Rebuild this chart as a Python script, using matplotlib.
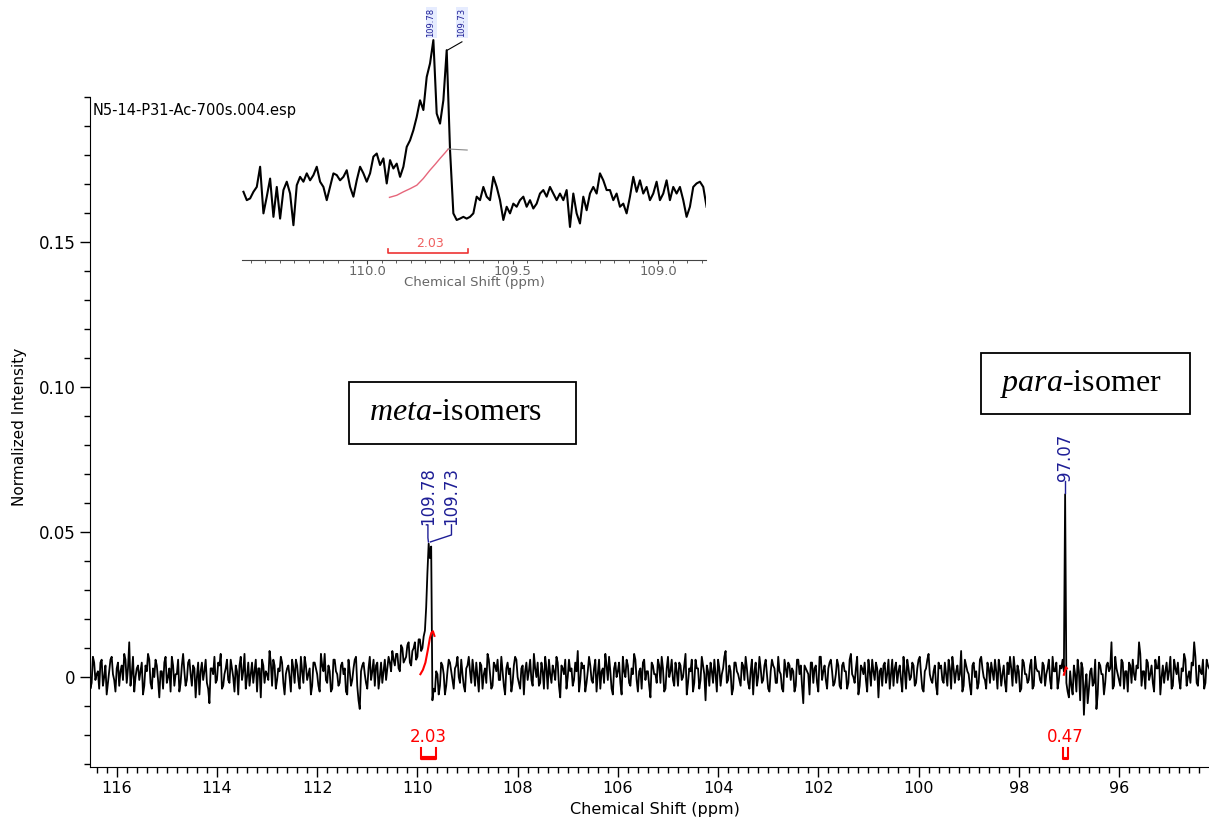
import numpy as np
import matplotlib
matplotlib.use('Agg')
import matplotlib.pyplot as plt
from matplotlib.patches import Rectangle
from matplotlib.ticker import MultipleLocator, FormatStrFormatter
from matplotlib.transforms import Bbox, TransformedBbox, blended_transform_factory

plt.rcParams['font.family'] = ['DejaVu Sans']
plt.rcParams['mathtext.fontset'] = 'custom'
plt.rcParams['mathtext.rm'] = 'Liberation Serif'
plt.rcParams['mathtext.it'] = 'Liberation Serif:italic'

# main spectrum (intensity x 1000), sampled every 0.025 ppm from 116.55 to 94.20:
# even samples 116.55, 116.50, ... and odd samples 116.525, 116.475, ...
even_milli = [
    3, -2, 5, 1, -4, 6, 0, -6, 2, 7, -1, 3, -3, 4, 8, -2, 12, 1, -5, 3,
    -1, 5, -3, 2, 6, -4, 0, 4, -7, 2, 5, -2, 3, 7, -3, 1, -5, 4, 2, -1,
    6, -3, 3, 0, -6, 5, 2, -2, -9, 3, 7, -1, 4, -4, 1, 6, -2, 3, -5, 2,
    4, -1, 8, 0, -3, 5, 2, -5, 3, 6, -2, 1, 9, -3, 4, -1, 2, 5, -6, 3,
    0, 6, -2, 4, -4, 2, 7, -1, 3, -3, 5, 1, -5, 4, 8, -2, 2, -4, 6, 1,
    -2, 5, 3, -6, 2, -1, 6, -3, -11, 4, 1, -4, 7, 2, -3, 5, 0, -2, 6, 3,
    5, 9, 4, 8, 2, 10, 6, 11, 5, 9, 12, 7, 13, 10, 16, 36, 41, -8, -5, 1,
    -3, 4, -6, 2, 5, -1, 3, 7, -2, 1, -5, 4, 2, 6, -3, 0, 5, -4, 3, 8,
    1, -3, 4, 6, -1, 2, -6, 5, 3, -2, 7, 0, -4, 4, 2, -1, 6, -3, 3, 5,
    -2, 2, 7, -4, 1, 4, -1, 5, -7, 3, 6, 0, 2, -3, 5, 9, -1, 3, -5, 2,
    4, -2, 6, 1, -4, 3, 8, -1, 2, -6, 5, 2, -2, 7, 0, 4, -3, 1, 6, -5,
    3, 5, -1, 2, -7, 4, 1, 6, -2, 3, -4, 7, 2, -1, 5, -3, 4, 0, 8, -2,
    2, -5, 6, 3, -1, 4, -8, 2, 5, -2, 1, 6, -3, 3, 9, -1, 2, -4, 5, 1,
    -3, 4, 7, -2, 2, -6, 5, 0, 3, -1, 6, -4, 2, 4, -2, 7, 1, -5, 3, 5,
    -1, 2, -3, 6, 4, -9, 3, 1, 5, -2, 4, -5, 7, 2, -1, 3, 6, -3, 1, 4,
    -4, 5, 2, -2, 8, 0, 3, -6, 4, 1, -1, 6, -3, 2, 5, -7, 3, 4, -2, 6,
    1, -3, 5, 2, -1, 7, -4, 3, 0, 4, -2, 6, 1, -5, 3, 8, -1, 2, -3, 5,
    4, -2, 1, 6, -4, 3, 2, -1, 9, -3, 4, 1, -6, 5, 2, -2, 7, 0, -4, 3,
    5, -1, 2, 6, -3, 4, -5, 1, 3, 7, -2, 2, -4, 5, 1, -1, 6, -3, 3, 2,
    -2, 4, 1, 6, -4, 2, 5, -1, 3, 2, -2, -7, -3, 4, -5, 2, 5, -13, 1, -4,
    3, -2, -11, 5, 1, -6, 4, 2, 12, -3, 3, -1, 6, -4, 2, 5, -2, 1, 4, 12,
    -3, 2, 6, -1, 4, -5, 3, 7, 0, -2, 5, 2, -4, 6, 1, -1, 3, 8, -3, 2,
    5, 12, -2, 4, 1, -4, 6, 3,
]
odd_milli = [
    -4, 7, -1, 2, 5, -3, 4, -2, 6, 1, -5, 5, 2, -1, 6, 3, -3, 7, 0, 4,
    2, -6, 4, 8, -2, 3, 6, -1, 2, -4, 7, 0, -5, 4, 1, 6, -2, 8, -3, 5,
    1, 4, -7, 5, 2, -1, 6, -4, 3, 1, -2, 5, 8, -3, 3, -1, 6, 0, 4, -6,
    7, 2, -4, 5, 1, -2, 6, 3, -7, 4, 2, -1, 5, 6, -4, 3, 7, -2, 1, 4,
    -5, 3, 6, -1, 7, -2, 4, 1, -6, 5, 3, -3, 8, 2, -1, 4, -5, 6, 2, -3,
    4, 1, -5, 6, -3, 3, 7, -8, 2, 5, -2, 3, -1, 6, 4, -4, 5, 2, -1, 7,
    2, 6, 8, 3, 11, 5, 7, 12, 4, 10, 6, 13, 9, 14, 24, 46, 45, -4, 2, -6,
    5, 1, -3, 6, 2, -4, 4, 0, 6, -3, 3, 7, -2, 2, 5, -5, 4, 1, -2, 6,
    -4, 5, 2, -1, 7, -3, 3, 1, -5, 4, 6, -2, 3, -6, 5, 2, -1, 8, 0, -3,
    5, -4, 3, 6, -2, 2, 7, -3, 4, 1, -4, 6, 3, -1, 2, -5, 5, 4, -2, 7,
    -1, 3, -5, 6, 2, -2, 4, 7, -4, 3, 0, 5, -6, 2, 6, -2, 3, 8, -1, 2,
    -4, 6, 2, -3, 5, 1, -2, 4, 7, -5, 3, 0, 6, -3, 2, 5, -1, 4, -6, 3,
    6, -2, 3, -4, 7, 1, 4, -3, 2, 6, -5, 3, 1, 7, -2, 4, -6, 5, 2, -1,
    5, -1, 3, -4, 6, 2, -3, 7, -2, 4, 1, -5, 6, 3, -2, 2, -4, 6, 0, 4,
    3, -5, 6, 1, -3, 4, 2, -6, 5, 3, -2, 7, -1, 4, -4, 5, 2, -2, 6, -3,
    4, 2, -4, 6, 1, -2, 7, -3, 3, 5, -5, 2, 6, -1, 3, 2, -3, 5, 1, -4,
    6, 3, -2, 4, -5, 2, 6, -1, 5, -3, 3, 7, -4, 2, 6, 1, -2, 4, -6, 3,
    -1, 5, -3, 3, 7, -2, 4, 1, -5, 6, 2, -3, 4, 0, -4, 6, 3, -1, 5, -2,
    2, 6, -4, 3, 1, -2, 5, 7, -3, 2, 4, -5, 6, 1, -2, 4, -4, 7, 2, -1,
    5, -3, 3, -1, 7, 2, -4, 4, 6, 63, -5, 2, -6, 1, 6, -8, 3, -3, -9, 2,
    -3, 6, -6, 4, 1, -2, 5, 3, -4, 7, 1, -3, 5, 2, -5, 4, 6, -1, 3, 8,
    2, -4, 5, 1, -2, 6, 3, -6, 4, 2, -1, 7, -3, 3, 5, -4, 2, 6, 0, -2,
    4, 7, -3, 2, 6, -2, 4,
]
ppm_start, ppm_end = 116.55, 94.20

# inset (expanded view of the meta region), intensity x 1000
inset_milli = [
    2.4, 0, 0.5, 2.4, 3.8, 9.6, -3.8, 1.0, 6.2, -4.8, 3.8, -5.3, 2.9, 5.3, 1.9, -7.2,
    4.3, 6.7, 5.3, 7.7, 5.7, 7.2, 9.6, 5.3, 3.8, 0, 3.8, 7.7, 7.2, 5.7, 6.7, 8.6,
    3.8, 1.0, 5.7, 9.6, 7.7, 5.3, 7.7, 12.5, 13.4, 10.1, 12.0, 4.8, 11.5, 9.1, 10.5, 6.7,
    9.6, 15.3, 17.2, 20.1, 23.9, 28.7, 25.9, 35.4, 39.3, 46.0, 24.9, 22.0, 28.7, 43.1,
    14.4, -3.8, -5.7, -5.3, -4.8, -5.3, -4.8, -3.8, 1.0, 0, 3.8, 1.0, 0, 6.7, 3.8, 0,
    -5.7, -1.9, -3.8, -1.0, -1.9, 0, 1.0, -1.9, 0, -2.4, -1.0, 1.9, 2.9, 1.0, 3.8, 1.9,
    0, 1.9, 0, 2.9, -7.7, 1.9, -3.8, -6.7, 1.0, -2.9, 1.9, 3.8, 1.9, 7.7, 5.7, 2.9,
    2.9, 0, 1.9, -1.9, -1.0, -3.8, 1.0, 6.7, 2.4, 5.7, 1.9, 3.8, 0, 1.9, 5.3, 0,
    1.9, 5.7, 0, 3.8, 1.9, 3.8, 0, -4.8, -1.9, 3.8, 4.8, 5.3, 3.8, -1.9,
]
inset_start, inset_end = 110.425, 108.833

# peaks and integrals
meta_peaks = [109.78, 109.73]
para_peak = 97.07
meta_int_ppm = [109.94, 109.89, 109.84, 109.79, 109.75, 109.72, 109.69, 109.66]
meta_int_val = [0.0010, 0.0025, 0.0050, 0.0095, 0.0135, 0.0153, 0.0158, 0.0142]
para_int_ppm = [97.10, 97.08, 97.06, 97.04]
para_int_val = [0.0008, 0.0020, 0.0034, 0.0030]
meta_range = (109.92, 109.63)
para_range = (97.12, 97.02)
integral_labels = ['2.03', '0.47']

inset_int_ppm = [109.923, 109.898, 109.875, 109.852, 109.829, 109.807, 109.784,
                 109.766, 109.749, 109.732, 109.721]
inset_int_milli = [0.8, 1.4, 2.4, 3.3, 4.3, 6.2, 8.6, 10.3, 12.0, 13.6, 14.7]

W, H = 1209, 818
BLUE = '#1e1e96'


def fx(px):
    return px / W


def fy(py):
    return 1 - py / H


fig = plt.figure(figsize=(W / 100, H / 100), dpi=100)

ax = fig.add_axes([fx(90), fy(767), fx(1209) - fx(90), fy(97) - fy(767)])
spectrum = np.empty(len(even_milli) + len(odd_milli))
spectrum[0::2] = even_milli
spectrum[1::2] = odd_milli
ppm = np.linspace(ppm_start, ppm_end, len(spectrum))
ax.plot(ppm, spectrum / 1000, color='k', lw=1.3)
ax.set_xlim(116.533, 94.204)
ax.set_ylim(-0.031, 0.2)
for s in ['top', 'right']:
    ax.spines[s].set_visible(False)
ax.xaxis.set_major_locator(MultipleLocator(2))
ax.xaxis.set_minor_locator(MultipleLocator(0.2))
ax.set_yticks([0, 0.05, 0.10, 0.15], ['0', '0.05', '0.10', '0.15'])
ax.yaxis.set_minor_locator(MultipleLocator(0.01))
ax.tick_params(which='major', length=7, width=1, labelsize=12, direction='out')
ax.tick_params(which='minor', length=4, width=1, direction='out')
ax.tick_params(axis='x', pad=3, labelsize=11.5)

fig.text(fx(20), fy(427), 'Normalized Intensity', rotation=90, ha='center', va='center', fontsize=11)
fig.text(fx(655), fy(817), 'Chemical Shift (ppm)', ha='center', va='bottom', fontsize=11.5)
fig.text(fx(93), fy(110), 'N5-14-P31-Ac-700s.004.esp', ha='left', va='center', fontsize=10.5)

# integrals
ax.plot(meta_int_ppm, meta_int_val, color='red', lw=1.5)
ax.plot(para_int_ppm, para_int_val, color='red', lw=1.5)
for (a, b), lab in zip([meta_range, para_range], integral_labels):
    ax.plot([a, a, b, b], [-0.0245, -0.0283, -0.0283, -0.0245], color='red', lw=1.5)
    ax.plot([a, b], [-0.0280, -0.0280], color='red', lw=3 if a - b > 0.15 else 1.5,
            solid_capstyle='butt')
    ax.text((a + b) / 2, -0.0207, lab, color='red', fontsize=12, ha='center', va='center')

# peak labels
ax.text(109.79, 0.0525, '%.2f' % meta_peaks[0], rotation=90, color=BLUE, fontsize=12,
        ha='center', va='bottom')
ax.plot([109.82, 109.79, 109.79, 109.78], [0.0525, 0.0525, 0.0480, 0.0466], color=BLUE, lw=1)
ax.text(109.32, 0.0525, '%.2f' % meta_peaks[1], rotation=90, color=BLUE, fontsize=12,
        ha='center', va='bottom')
ax.plot([109.32, 109.32, 109.74], [0.0525, 0.0490, 0.0466], color=BLUE, lw=1)
ax.text(para_peak, 0.0675, '%.2f' % para_peak, rotation=90, color=BLUE, fontsize=12,
        ha='center', va='bottom')
ax.plot([para_peak, para_peak], [0.0675, 0.0636], color=BLUE, lw=1)

# isomer boxes
fig.add_artist(Rectangle((fx(349), fy(444)), fx(576) - fx(349), fy(382) - fy(444),
                         transform=fig.transFigure, fill=False, lw=1.3, ec='k'))
fig.text(fx(369), fy(413), r'$\mathit{meta}$-isomers', family='Liberation Serif',
         fontsize=23, ha='left', va='center')
fig.add_artist(Rectangle((fx(981), fy(414)), fx(1190) - fx(981), fy(353) - fy(414),
                         transform=fig.transFigure, fill=False, lw=1.3, ec='k'))
fig.text(fx(1000), fy(384), r'$\mathit{para}$-isomer', family='Liberation Serif',
         fontsize=23, ha='left', va='center')

# inset
ax_in = fig.add_axes([fx(242), fy(260), fx(706) - fx(242), fy(38) - fy(260)])
ax_in.patch.set_alpha(0)
inset_ppm = np.linspace(inset_start, inset_end, len(inset_milli))
ax_in.plot(inset_ppm, np.array(inset_milli) / 1000, color='k', lw=1.5)
ax_in.set_xlim(110.43, 108.835)
ax_in.set_ylim(-0.0172, 0.0466)
for s in ['top', 'right', 'left']:
    ax_in.spines[s].set_visible(False)
ax_in.spines['bottom'].set_color('#444444')
ax_in.set_yticks([])
ax_in.xaxis.set_major_locator(MultipleLocator(0.5))
ax_in.xaxis.set_minor_locator(MultipleLocator(0.05))
ax_in.xaxis.set_major_formatter(FormatStrFormatter('%.1f'))
ax_in.tick_params(which='major', length=3, color='#444444', labelsize=9.5,
                  labelcolor='#666666', pad=0.5)
ax_in.tick_params(which='minor', length=2, color='#444444')
ax_in.set_xlabel('Chemical Shift (ppm)', fontsize=9.5, color='#666666', labelpad=-1)
t = ax_in.text(110.5, -0.015, '110.5', fontsize=9.5, color='#666666', ha='center', va='top',
               transform=blended_transform_factory(ax_in.transData, ax_in.transAxes))
t.set_clip_box(TransformedBbox(Bbox([[0, -1], [1, 1]]), ax_in.transAxes))
t.set_clip_on(True)

ax_in.plot(inset_int_ppm, np.array(inset_int_milli) / 1000, color='#e0405a', lw=1, alpha=0.8)
ax_in.plot([109.721, 109.656], [0.0147, 0.0144], color='#888888', lw=0.8)
ax_in.plot([109.928, 109.928, 109.653, 109.653], [-0.0141, -0.0152, -0.0152, -0.0141],
           color='#ee3333', lw=1.2, clip_on=False)
ax_in.text(109.783, -0.0126, integral_labels[0], color='#f06060', fontsize=9,
           ha='center', va='center')
lab_box = dict(fc='#e6ecff', ec='none', pad=0.8)
ax_in.text(109.78, 0.0468, '%.2f' % meta_peaks[0], rotation=90, fontsize=6, color=BLUE,
           ha='center', va='bottom', bbox=lab_box, clip_on=False)
ax_in.text(109.674, 0.0468, '%.2f' % meta_peaks[1], rotation=90, fontsize=6, color=BLUE,
           ha='center', va='bottom', bbox=lab_box, clip_on=False)
ax_in.plot([109.674, 109.724], [0.0455, 0.0431], color='k', lw=0.8, clip_on=False)

fig.savefig('out.png', dpi=100)
